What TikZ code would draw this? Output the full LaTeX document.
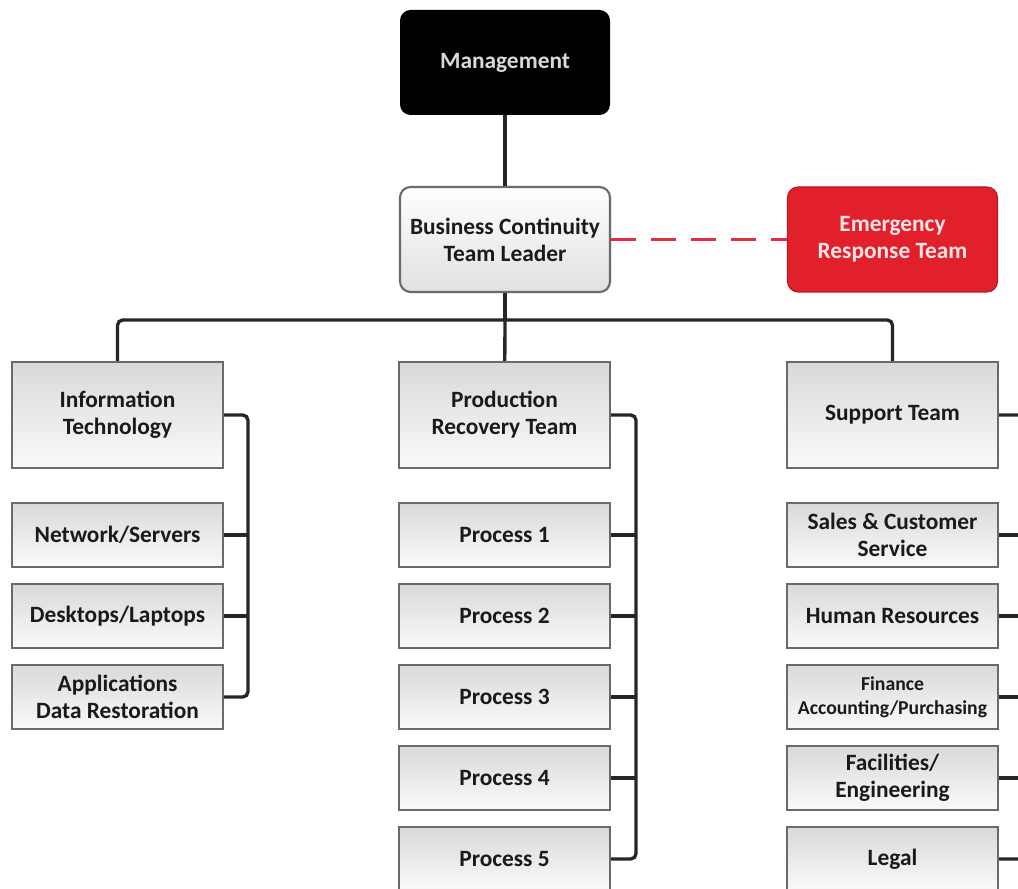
\documentclass[tikz,border=0pt]{standalone}
\usepackage{fontspec}
\setmainfont{Carlito}
\usetikzlibrary{positioning}
\usetikzlibrary{shadings,shadows}
\definecolor{BCTblack}{HTML}{000000}
\definecolor{BCTred}{HTML}{E2202B}
\definecolor{BCTdash}{HTML}{E03040}
\definecolor{BCTline}{HTML}{262626}
\definecolor{BCTborder}{HTML}{6A6A6A}
\definecolor{BCTtext}{HTML}{1A1A1A}
\definecolor{BCTtop}{HTML}{D9D9D9}
\definecolor{BCTbottom}{HTML}{FAFAFA}

\begin{document}
\begin{tikzpicture}[
  every node/.style={align=center, font=\bfseries\fontsize{13.3}{15.4}\selectfont},
  greybox/.style={draw=BCTborder, line width=1.2pt, text=BCTtext,
    top color=BCTtop, bottom color=BCTbottom, minimum width=4.22cm,
    drop shadow={opacity=0.15, shadow xshift=0.8pt, shadow yshift=-0.8pt}},
  teambox/.style={greybox, minimum height=2.12cm},
  subbox/.style={greybox, minimum height=1.28cm},
  topbox/.style={rounded corners=6pt, minimum width=4.2cm, minimum height=2.1cm},
  conn/.style={draw=BCTline, line width=1.9pt, rounded corners=3pt}]

\clip (0,0) rectangle (20.36,17.76);
\fill[white] (0,0) rectangle (20.36,17.76);

% Top of the chart
\node[topbox, fill=BCTblack, text=white!85!black] (mgmt) at (10.1,16.51) {Management};
\node[topbox, draw=BCTborder, line width=1.2pt, text=BCTtext, top color=white, bottom color=BCTtop!80,
  drop shadow={opacity=0.15, shadow xshift=0.8pt, shadow yshift=-0.8pt}] (leader) at (10.1,12.97) {Business Continuity\\Team Leader};
\node[topbox, fill=BCTred, draw=BCTred!80!black, line width=0.6pt, text=white!90!red] (ert) at (17.85,12.97) {Emergency\\Response Team};

% Teams
\node[teambox] (it) at (2.35,9.46) {Information\\Technology};
\node[teambox] (prt) at (10.09,9.46) {Production\\Recovery Team};
\node[teambox] (support) at (17.85,9.46) {Support Team};

% Information Technology
\node[subbox] (net) at (2.35,7.06) {Network/Servers};
\node[subbox] (desk) at (2.35,5.44) {Desktops/Laptops};
\node[subbox] (apps) at (2.35,3.82) {Applications\\Data Restoration};

% Production Recovery Team
\node[subbox] (proc1) at (10.09,7.06) {Process 1};
\node[subbox] (proc2) at (10.09,5.44) {Process 2};
\node[subbox] (proc3) at (10.09,3.82) {Process 3};
\node[subbox] (proc4) at (10.09,2.20) {Process 4};
\node[subbox] (proc5) at (10.09,0.58) {Process 5};

% Support Team
\node[subbox] (sales) at (17.85,7.06) {Sales \& Customer\\Service};
\node[subbox] (hr) at (17.85,5.44) {Human Resources};
\node[subbox, font=\bfseries\fontsize{11.2}{13.4}\selectfont] (fin) at (17.85,3.82) {Finance\\Accounting/Purchasing};
\node[subbox] (fac) at (17.85,2.20) {Facilities/\\Engineering};
\node[subbox] (legal) at (17.85,0.58) {Legal};

% Connectors
\coordinate (bus) at (10.1,11.36);
\coordinate (itbus) at (4.96,9.46);
\coordinate (prtbus) at (12.72,9.46);
\coordinate (supbus) at (20.48,9.46);

\draw[conn] (mgmt) -- (leader);
\draw[draw=BCTdash, line width=2.2pt, dash pattern=on 0.5cm off 0.3cm] (leader) -- (ert);
\draw[conn] (leader) -- (bus);
\draw[conn] (it) |- (bus) -| (support);
\draw[conn] (bus) -- (prt);

\draw[conn] (it.east) -- (itbus) |- (apps.east);
\draw[conn] (net.east) -- (net.east -| itbus);
\draw[conn] (desk.east) -- (desk.east -| itbus);

\draw[conn] (prt.east) -- (prtbus) |- (proc5.east);
\draw[conn] (proc1.east) -- (proc1.east -| prtbus);
\draw[conn] (proc2.east) -- (proc2.east -| prtbus);
\draw[conn] (proc3.east) -- (proc3.east -| prtbus);
\draw[conn] (proc4.east) -- (proc4.east -| prtbus);

\draw[conn] (support.east) -- (supbus) |- (legal.east);
\draw[conn] (sales.east) -- (sales.east -| supbus);
\draw[conn] (hr.east) -- (hr.east -| supbus);
\draw[conn] (fin.east) -- (fin.east -| supbus);
\draw[conn] (fac.east) -- (fac.east -| supbus);

\end{tikzpicture}
\end{document}
